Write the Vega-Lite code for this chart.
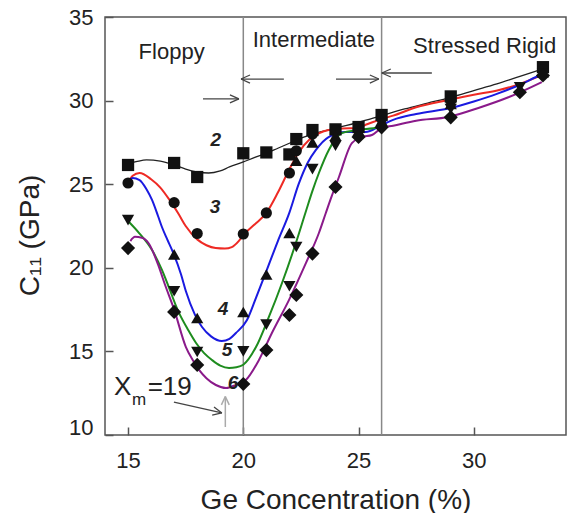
{
  "$schema": "https://vega.github.io/schema/vega-lite/v6.json",
  "width": 461,
  "height": 418,
  "autosize": {"type": "none"},
  "padding": {"left": 105, "top": 17, "right": 9, "bottom": 78},
  "background": "white",
  "config": {
    "font": "Liberation Sans",
    "view": {"stroke": "#555", "strokeWidth": 1.5},
    "axis": {"grid": false, "domain": false}
  },
  "datasets": {
    "curves": [
      {"s": "2", "x": 15.0, "y": 26.25}, {"s": "2", "x": 15.35, "y": 26.35}, {"s": "2", "x": 15.8, "y": 26.45}, {"s": "2", "x": 16.4, "y": 26.38}, {"s": "2", "x": 17.0, "y": 26.15}, {"s": "2", "x": 17.5, "y": 25.9}, {"s": "2", "x": 18.0, "y": 25.72}, {"s": "2", "x": 18.5, "y": 25.67}, {"s": "2", "x": 19.0, "y": 25.8}, {"s": "2", "x": 19.4, "y": 26.03}, {"s": "2", "x": 20.0, "y": 26.33}, {"s": "2", "x": 20.5, "y": 26.6}, {"s": "2", "x": 21.0, "y": 26.85}, {"s": "2", "x": 21.5, "y": 27.15}, {"s": "2", "x": 22.0, "y": 27.45}, {"s": "2", "x": 22.5, "y": 27.75}, {"s": "2", "x": 23.15, "y": 28.06}, {"s": "2", "x": 24.0, "y": 28.35}, {"s": "2", "x": 25.0, "y": 28.7}, {"s": "2", "x": 26.0, "y": 29.1}, {"s": "2", "x": 27.0, "y": 29.5}, {"s": "2", "x": 28.0, "y": 29.85}, {"s": "2", "x": 29.0, "y": 30.2}, {"s": "2", "x": 30.0, "y": 30.6}, {"s": "2", "x": 31.0, "y": 31.0}, {"s": "2", "x": 32.0, "y": 31.45}, {"s": "2", "x": 33.0, "y": 31.9},

      {"s": "3", "x": 15.0, "y": 25.1}, {"s": "3", "x": 15.2, "y": 25.5}, {"s": "3", "x": 15.5, "y": 25.67}, {"s": "3", "x": 16.0, "y": 25.3}, {"s": "3", "x": 16.4, "y": 24.8}, {"s": "3", "x": 16.8, "y": 24.06}, {"s": "3", "x": 17.2, "y": 23.2}, {"s": "3", "x": 17.5, "y": 22.5}, {"s": "3", "x": 18.0, "y": 21.7}, {"s": "3", "x": 18.4, "y": 21.35}, {"s": "3", "x": 18.8, "y": 21.18}, {"s": "3", "x": 19.2, "y": 21.15}, {"s": "3", "x": 19.5, "y": 21.24}, {"s": "3", "x": 19.8, "y": 21.6}, {"s": "3", "x": 20.0, "y": 21.96}, {"s": "3", "x": 20.5, "y": 22.6}, {"s": "3", "x": 21.0, "y": 23.28}, {"s": "3", "x": 21.5, "y": 24.5}, {"s": "3", "x": 22.0, "y": 25.9}, {"s": "3", "x": 22.4, "y": 26.9}, {"s": "3", "x": 22.85, "y": 27.64}, {"s": "3", "x": 23.3, "y": 28.05}, {"s": "3", "x": 23.7, "y": 28.24}, {"s": "3", "x": 24.3, "y": 28.33}, {"s": "3", "x": 24.9, "y": 28.36}, {"s": "3", "x": 25.4, "y": 28.6}, {"s": "3", "x": 25.9, "y": 28.85}, {"s": "3", "x": 26.5, "y": 29.1}, {"s": "3", "x": 27.5, "y": 29.6}, {"s": "3", "x": 28.9, "y": 30.04}, {"s": "3", "x": 30.0, "y": 30.35}, {"s": "3", "x": 31.1, "y": 30.63}, {"s": "3", "x": 32.0, "y": 31.0}, {"s": "3", "x": 33.0, "y": 31.55},

      {"s": "4", "x": 15.0, "y": 25.1}, {"s": "4", "x": 15.2, "y": 25.37}, {"s": "4", "x": 15.5, "y": 25.25}, {"s": "4", "x": 15.8, "y": 24.7}, {"s": "4", "x": 16.04, "y": 24.06}, {"s": "4", "x": 16.3, "y": 23.1}, {"s": "4", "x": 16.47, "y": 22.44}, {"s": "4", "x": 16.7, "y": 21.7}, {"s": "4", "x": 16.91, "y": 21.06}, {"s": "4", "x": 17.3, "y": 19.6}, {"s": "4", "x": 17.51, "y": 18.6}, {"s": "4", "x": 17.9, "y": 17.2}, {"s": "4", "x": 18.21, "y": 16.46}, {"s": "4", "x": 18.6, "y": 15.9}, {"s": "4", "x": 19.07, "y": 15.62}, {"s": "4", "x": 19.4, "y": 15.75}, {"s": "4", "x": 19.68, "y": 16.1}, {"s": "4", "x": 20.16, "y": 16.88}, {"s": "4", "x": 20.55, "y": 18.2}, {"s": "4", "x": 21.0, "y": 19.8}, {"s": "4", "x": 21.5, "y": 21.6}, {"s": "4", "x": 22.0, "y": 23.3}, {"s": "4", "x": 22.4, "y": 25.0}, {"s": "4", "x": 22.8, "y": 26.3}, {"s": "4", "x": 23.15, "y": 27.05}, {"s": "4", "x": 23.7, "y": 27.82}, {"s": "4", "x": 24.45, "y": 28.12}, {"s": "4", "x": 25.3, "y": 28.12}, {"s": "4", "x": 26.0, "y": 28.54}, {"s": "4", "x": 26.5, "y": 28.85}, {"s": "4", "x": 27.5, "y": 29.2}, {"s": "4", "x": 29.0, "y": 29.56}, {"s": "4", "x": 30.0, "y": 29.95}, {"s": "4", "x": 31.0, "y": 30.4}, {"s": "4", "x": 32.0, "y": 30.95}, {"s": "4", "x": 32.7, "y": 31.41}, {"s": "4", "x": 33.0, "y": 31.6},

      {"s": "5", "x": 15.0, "y": 22.8}, {"s": "5", "x": 15.48, "y": 22.08}, {"s": "5", "x": 16.04, "y": 21.06}, {"s": "5", "x": 16.47, "y": 19.87}, {"s": "5", "x": 16.65, "y": 19.27}, {"s": "5", "x": 17.21, "y": 17.3}, {"s": "5", "x": 17.6, "y": 16.3}, {"s": "5", "x": 17.95, "y": 15.5}, {"s": "5", "x": 18.3, "y": 14.9}, {"s": "5", "x": 18.64, "y": 14.49}, {"s": "5", "x": 19.0, "y": 14.15}, {"s": "5", "x": 19.38, "y": 14.01}, {"s": "5", "x": 19.7, "y": 14.05}, {"s": "5", "x": 20.0, "y": 14.2}, {"s": "5", "x": 20.55, "y": 15.26}, {"s": "5", "x": 21.11, "y": 17.06}, {"s": "5", "x": 21.68, "y": 19.09}, {"s": "5", "x": 22.28, "y": 21.48}, {"s": "5", "x": 22.72, "y": 23.4}, {"s": "5", "x": 23.0, "y": 24.6}, {"s": "5", "x": 23.28, "y": 25.67}, {"s": "5", "x": 23.71, "y": 27.05}, {"s": "5", "x": 24.28, "y": 28.06}, {"s": "5", "x": 25.0, "y": 28.24}, {"s": "5", "x": 25.88, "y": 28.42}, {"s": "5", "x": 26.2, "y": 28.6},

      {"s": "6", "x": 15.1, "y": 21.6}, {"s": "6", "x": 15.3, "y": 21.85}, {"s": "6", "x": 15.6, "y": 21.8}, {"s": "6", "x": 15.9, "y": 21.45}, {"s": "6", "x": 16.3, "y": 20.2}, {"s": "6", "x": 16.6, "y": 19.0}, {"s": "6", "x": 17.0, "y": 17.5}, {"s": "6", "x": 17.51, "y": 15.26}, {"s": "6", "x": 17.8, "y": 14.5}, {"s": "6", "x": 18.08, "y": 13.89}, {"s": "6", "x": 18.4, "y": 13.4}, {"s": "6", "x": 18.81, "y": 12.99}, {"s": "6", "x": 19.25, "y": 12.81}, {"s": "6", "x": 19.68, "y": 13.0}, {"s": "6", "x": 20.11, "y": 13.29}, {"s": "6", "x": 20.68, "y": 14.49}, {"s": "6", "x": 21.24, "y": 16.1}, {"s": "6", "x": 21.98, "y": 18.07}, {"s": "6", "x": 22.72, "y": 20.29}, {"s": "6", "x": 23.28, "y": 22.08}, {"s": "6", "x": 23.58, "y": 23.28}, {"s": "6", "x": 23.84, "y": 24.3}, {"s": "6", "x": 24.15, "y": 25.43}, {"s": "6", "x": 24.71, "y": 27.46}, {"s": "6", "x": 25.14, "y": 27.82}, {"s": "6", "x": 25.58, "y": 27.94}, {"s": "6", "x": 26.01, "y": 28.36}, {"s": "6", "x": 26.5, "y": 28.5}, {"s": "6", "x": 27.5, "y": 28.8}, {"s": "6", "x": 28.9, "y": 29.02}, {"s": "6", "x": 30.2, "y": 29.56}, {"s": "6", "x": 31.5, "y": 30.2}, {"s": "6", "x": 32.95, "y": 31.11}
    ],
    "markers": [
      {"s": "2", "x": 15, "y": 26.15}, {"s": "2", "x": 17, "y": 26.27}, {"s": "2", "x": 18, "y": 25.43}, {"s": "2", "x": 20, "y": 26.85}, {"s": "2", "x": 21, "y": 26.9}, {"s": "2", "x": 22, "y": 26.78}, {"s": "2", "x": 22.3, "y": 27.7}, {"s": "2", "x": 23, "y": 28.24}, {"s": "2", "x": 24, "y": 28.28}, {"s": "2", "x": 25, "y": 28.42}, {"s": "2", "x": 26, "y": 29.14}, {"s": "2", "x": 29, "y": 30.25}, {"s": "2", "x": 33, "y": 32.0},
      {"s": "3", "x": 15, "y": 25.07}, {"s": "3", "x": 17, "y": 23.9}, {"s": "3", "x": 18, "y": 22.05}, {"s": "3", "x": 20, "y": 22.02}, {"s": "3", "x": 21, "y": 23.28}, {"s": "3", "x": 22, "y": 25.67}, {"s": "3", "x": 22.3, "y": 27.0}, {"s": "3", "x": 23, "y": 28.0}, {"s": "3", "x": 24, "y": 28.2}, {"s": "3", "x": 25, "y": 28.3}, {"s": "3", "x": 26, "y": 29.0}, {"s": "3", "x": 29, "y": 30.0}, {"s": "3", "x": 33, "y": 31.85},
      {"s": "4", "x": 17, "y": 20.8}, {"s": "4", "x": 18, "y": 17.0}, {"s": "4", "x": 20, "y": 17.36}, {"s": "4", "x": 21, "y": 19.6}, {"s": "4", "x": 22, "y": 22.08}, {"s": "4", "x": 22.3, "y": 26.4}, {"s": "4", "x": 23, "y": 27.5}, {"s": "4", "x": 24, "y": 27.9}, {"s": "4", "x": 25, "y": 28.2}, {"s": "4", "x": 26, "y": 28.8}, {"s": "4", "x": 29, "y": 29.8}, {"s": "4", "x": 33, "y": 31.7},
      {"s": "5", "x": 15, "y": 22.85}, {"s": "5", "x": 17, "y": 18.6}, {"s": "5", "x": 18, "y": 14.96}, {"s": "5", "x": 20, "y": 15.0}, {"s": "5", "x": 21, "y": 16.6}, {"s": "5", "x": 22, "y": 18.9}, {"s": "5", "x": 22.3, "y": 21.24}, {"s": "5", "x": 23, "y": 25.9}, {"s": "5", "x": 24, "y": 27.3}, {"s": "5", "x": 25, "y": 28.0}, {"s": "5", "x": 26, "y": 28.6}, {"s": "5", "x": 29, "y": 29.5}, {"s": "5", "x": 32, "y": 30.8}, {"s": "5", "x": 33, "y": 31.6},
      {"s": "6", "x": 15, "y": 21.18}, {"s": "6", "x": 17, "y": 17.36}, {"s": "6", "x": 18, "y": 14.19}, {"s": "6", "x": 20, "y": 13.05}, {"s": "6", "x": 21, "y": 15.08}, {"s": "6", "x": 22, "y": 17.18}, {"s": "6", "x": 22.3, "y": 18.37}, {"s": "6", "x": 23, "y": 20.85}, {"s": "6", "x": 24, "y": 24.83}, {"s": "6", "x": 25, "y": 27.82}, {"s": "6", "x": 26, "y": 28.4}, {"s": "6", "x": 29, "y": 29.0}, {"s": "6", "x": 32, "y": 30.5}, {"s": "6", "x": 33, "y": 31.5}
    ],
    "vlines": [{"x": 20}, {"x": 26}],
    "segs": [
      {"g": "dark", "x": 18.25, "y": 30.1, "x2": 19.81, "y2": 30.1},
      {"g": "dark", "x": 19.81, "y": 30.1, "x2": 19.42, "y2": 30.34},
      {"g": "dark", "x": 19.81, "y": 30.1, "x2": 19.42, "y2": 29.86},
      {"g": "dark", "x": 21.76, "y": 31.29, "x2": 19.9, "y2": 31.29},
      {"g": "dark", "x": 19.9, "y": 31.29, "x2": 20.29, "y2": 31.53},
      {"g": "dark", "x": 19.9, "y": 31.29, "x2": 20.29, "y2": 31.05},
      {"g": "dark", "x": 24.02, "y": 31.29, "x2": 25.88, "y2": 31.29},
      {"g": "dark", "x": 25.88, "y": 31.29, "x2": 25.49, "y2": 31.53},
      {"g": "dark", "x": 25.88, "y": 31.29, "x2": 25.49, "y2": 31.05},
      {"g": "dark", "x": 28.18, "y": 31.65, "x2": 26.01, "y2": 31.65},
      {"g": "dark", "x": 26.01, "y": 31.65, "x2": 26.4, "y2": 31.89},
      {"g": "dark", "x": 26.01, "y": 31.65, "x2": 26.4, "y2": 31.41},
      {"g": "dark", "x": 16.99, "y": 11.97, "x2": 19.07, "y2": 11.32},
      {"g": "dark", "x": 19.07, "y": 11.32, "x2": 18.73, "y2": 11.68},
      {"g": "dark", "x": 19.07, "y": 11.32, "x2": 18.65, "y2": 11.19},
      {"g": "light", "x": 19.22, "y": 10.48, "x2": 19.22, "y2": 12.3},
      {"g": "light", "x": 19.22, "y": 12.3, "x2": 19.05, "y2": 11.8},
      {"g": "light", "x": 19.22, "y": 12.3, "x2": 19.39, "y2": 11.8}
    ],
    "regions": [
      {"t": "Floppy", "x": 16.89, "y": 32.49},
      {"t": "Intermediate", "x": 23.06, "y": 33.2},
      {"t": "Stressed Rigid", "x": 30.47, "y": 32.85}
    ],
    "nums": [
      {"t": "2", "x": 18.81, "y": 27.64},
      {"t": "3", "x": 18.77, "y": 23.64},
      {"t": "4", "x": 19.12, "y": 17.54},
      {"t": "5", "x": 19.29, "y": 15.08},
      {"t": "6", "x": 19.55, "y": 13.11}
    ],
    "xm": [
      {"k": "big", "t": "X", "x": 14.39, "y": 12.39},
      {"k": "small", "t": "m", "x": 15.17, "y": 11.79},
      {"k": "big", "t": "=19", "x": 15.85, "y": 12.39}
    ]
  },
  "layer": [
    {
      "data": {"name": "vlines"},
      "mark": {"type": "rule", "color": "#888", "strokeWidth": 1.5},
      "encoding": {
        "x": {
          "field": "x", "type": "quantitative",
          "scale": {"domain": [14, 34], "nice": false, "zero": false},
          "axis": {
            "values": [15, 20, 25, 30], "tickSize": -8, "tickColor": "#555", "tickWidth": 1.5,
            "labelPadding": 23, "labelFontSize": 22, "labelColor": "#222",
            "title": "Ge Concentration (%)", "titleFontSize": 28, "titleFontWeight": "normal",
            "titleColor": "#222", "titleY": 73, "titleBaseline": "alphabetic"
          }
        }
      }
    },
    {
      "data": {"name": "curves"},
      "transform": [{"filter": "datum.s == '2'"}],
      "mark": {"type": "line", "color": "#222", "strokeWidth": 1.3, "interpolate": "monotone"},
      "encoding": {
        "x": {"field": "x", "type": "quantitative"},
        "y": {
          "field": "y", "type": "quantitative",
          "scale": {"domain": [10, 35], "nice": false, "zero": false},
          "axis": {
            "values": [10, 15, 20, 25, 30, 35], "tickSize": -8, "tickColor": "#555", "tickWidth": 1.5,
            "labelPadding": 20, "labelFontSize": 22, "labelColor": "#222",
            "labelOffset": {"condition": {"test": "datum.value === 10", "value": -8}, "value": 0},
            "title": "C₁₁ (GPa)", "titleFontSize": 28, "titleFontWeight": "normal", "titleColor": "#222",
            "titleAngle": -90, "titleX": -75, "titleY": 218, "titleAlign": "center", "titleBaseline": "middle"
          }
        }
      }
    },
    {
      "data": {"name": "curves"},
      "transform": [{"filter": "datum.s != '2'"}],
      "mark": {"type": "line", "strokeWidth": 2, "interpolate": "monotone"},
      "encoding": {
        "x": {"field": "x", "type": "quantitative"},
        "y": {"field": "y", "type": "quantitative"},
        "color": {
          "field": "s", "type": "nominal", "legend": null,
          "scale": {"domain": ["3", "4", "5", "6"], "range": ["#ee2a24", "#1a1ae0", "#1e8c1e", "#8a1a8a"]}
        }
      }
    },
    {
      "data": {"name": "markers"},
      "mark": {"type": "point", "filled": true, "color": "#111", "opacity": 1},
      "encoding": {
        "x": {"field": "x", "type": "quantitative"},
        "y": {"field": "y", "type": "quantitative"},
        "shape": {
          "field": "s", "type": "nominal", "legend": null,
          "scale": {"domain": ["2", "3", "4", "5", "6"], "range": ["square", "circle", "triangle-up", "triangle-down", "diamond"]}
        },
        "size": {
          "field": "s", "type": "nominal", "legend": null,
          "scale": {"type": "ordinal", "domain": ["2", "3", "4", "5", "6"], "range": [150, 125, 150, 150, 200]}
        }
      }
    },
    {
      "data": {"name": "segs"},
      "transform": [{"filter": "datum.g == 'dark'"}],
      "mark": {"type": "rule", "color": "#444", "strokeWidth": 1.3},
      "encoding": {
        "x": {"field": "x", "type": "quantitative"},
        "y": {"field": "y", "type": "quantitative"},
        "x2": {"field": "x2"},
        "y2": {"field": "y2"}
      }
    },
    {
      "data": {"name": "segs"},
      "transform": [{"filter": "datum.g == 'light'"}],
      "mark": {"type": "rule", "color": "#aaa", "strokeWidth": 1.5},
      "encoding": {
        "x": {"field": "x", "type": "quantitative"},
        "y": {"field": "y", "type": "quantitative"},
        "x2": {"field": "x2"},
        "y2": {"field": "y2"}
      }
    },
    {
      "data": {"name": "regions"},
      "mark": {"type": "text", "fontSize": 22, "color": "#222", "align": "center", "baseline": "alphabetic"},
      "encoding": {
        "x": {"field": "x", "type": "quantitative"},
        "y": {"field": "y", "type": "quantitative"},
        "text": {"field": "t"}
      }
    },
    {
      "data": {"name": "nums"},
      "mark": {"type": "text", "fontSize": 19, "fontWeight": "bold", "fontStyle": "italic", "color": "#222", "align": "center", "baseline": "middle"},
      "encoding": {
        "x": {"field": "x", "type": "quantitative"},
        "y": {"field": "y", "type": "quantitative"},
        "text": {"field": "t"}
      }
    },
    {
      "data": {"name": "xm"},
      "transform": [{"filter": "datum.k == 'big'"}],
      "mark": {"type": "text", "fontSize": 26, "color": "#222", "align": "left", "baseline": "alphabetic"},
      "encoding": {
        "x": {"field": "x", "type": "quantitative"},
        "y": {"field": "y", "type": "quantitative"},
        "text": {"field": "t"}
      }
    },
    {
      "data": {"name": "xm"},
      "transform": [{"filter": "datum.k == 'small'"}],
      "mark": {"type": "text", "fontSize": 17, "color": "#222", "align": "left", "baseline": "alphabetic"},
      "encoding": {
        "x": {"field": "x", "type": "quantitative"},
        "y": {"field": "y", "type": "quantitative"},
        "text": {"field": "t"}
      }
    }
  ]
}
